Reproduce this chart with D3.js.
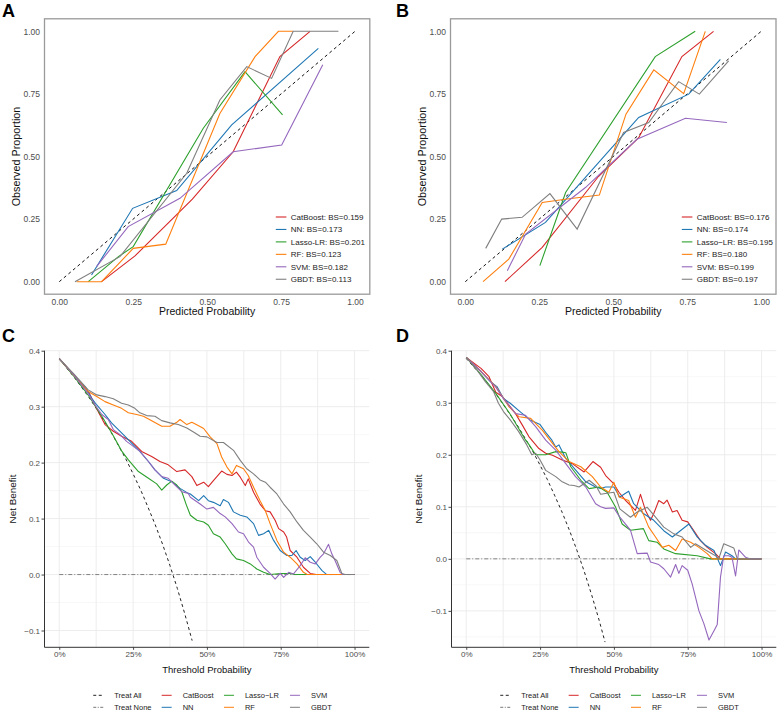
<!DOCTYPE html>
<html>
<head>
<meta charset="utf-8">
<script src="https://cdn.jsdelivr.net/npm/d3@7"></script>
<style>
  body { margin: 0; background: #fff; }
  text { font-family: "Liberation Sans", Arial, sans-serif; }
</style>
</head>
<body>
<svg id="chart" width="778" height="712"></svg>
<script>
// ---- data ----
const models = ["CatBoost", "NN", "Lasso-LR", "RF", "SVM", "GBDT"]
const modelColors = ["#D62728", "#1F77B4", "#2CA02C", "#FF7F0E", "#9467BD", "#7F7F7F"]

const bsA = [0.159, 0.173, 0.201, 0.123, 0.182, 0.113]
const bsB = [0.176, 0.174, 0.195, 0.180, 0.199, 0.197]
const calTicks = [0, 0.25, 0.5, 0.75, 1]

// calibration curves, [predicted, observed], in model order
const calA = [
  [[0.143,0],[0.256,0.103],[0.45,0.33],[0.588,0.519],[0.746,0.899],[0.848,1.0]],
  [[0.109,0.027],[0.248,0.293],[0.397,0.364],[0.583,0.626],[0.876,0.932]],
  [[0.098,0],[0.2,0.1],[0.25,0.14],[0.487,0.613],[0.628,0.839],[0.755,0.666]],
  [[0.059,0],[0.143,0],[0.25,0.133],[0.36,0.15],[0.543,0.672],[0.662,0.899],[0.741,1.0],[0.79,1.0]],
  [[0.126,0.06],[0.233,0.22],[0.408,0.333],[0.588,0.519],[0.752,0.546],[0.891,0.866]],
  [[0.053,0],[0.205,0.1],[0.431,0.433],[0.543,0.726],[0.634,0.859],[0.718,0.812],[0.791,1.0],[0.944,1.0]]
]
const calB = [
  [[0.134,0],[0.26,0.137],[0.45,0.42],[0.586,0.575],[0.732,0.899],[0.839,1.0]],
  [[0.125,0.13],[0.271,0.237],[0.541,0.596],[0.586,0.656],[0.755,0.749],[0.862,0.888]],
  [[0.252,0.064],[0.339,0.356],[0.642,0.899],[0.777,1.0]],
  [[0.06,0],[0.147,0.09],[0.26,0.316],[0.344,0.33],[0.453,0.346],[0.543,0.669],[0.637,0.846],[0.738,0.751],[0.811,1.0]],
  [[0.142,0.044],[0.204,0.19],[0.406,0.376],[0.58,0.569],[0.744,0.653],[0.884,0.636]],
  [[0.069,0.133],[0.123,0.25],[0.192,0.257],[0.286,0.352],[0.378,0.21],[0.535,0.596],[0.62,0.636],[0.721,0.799],[0.791,0.749],[0.89,0.882]]
]

// decision curves, [threshold, net benefit]
const treatAllC = [[0,.385],[.025,.369],[.05,.353],[.075,.335],[.1,.317],[.125,.297],[.15,.276],[.175,.255],[.2,.231],[.225,.207],[.25,.180],[.275,.152],[.3,.121],[.325,.089],[.35,.054],[.375,.016],[.4,-.025],[.425,-.070],[.45,-.118]]
const treatAllD = [[0,.385],[.025,.369],[.05,.353],[.075,.335],[.1,.317],[.125,.297],[.15,.276],[.175,.255],[.2,.231],[.225,.207],[.25,.180],[.275,.152],[.3,.121],[.325,.089],[.35,.054],[.375,.016],[.4,-.025],[.425,-.070],[.45,-.118],[.47,-.160]]
const treatNone = [[0,0],[1,0]]

const dcaC_CatBoost = [[0,.386],[.05,.356],[.1,.326],[.125,.298],[.155,.268],[.183,.256],[.211,.247],[.245,.238],[.279,.220],[.313,.211],[.341,.202],[.369,.196],[.398,.184],[.426,.187],[.449,.175],[.466,.159],[.489,.165],[.505,.157],[.522,.168],[.55,.185],[.568,.179],[.585,.177],[.6,.183],[.613,.174],[.63,.159],[.64,.171],[.658,.147],[.68,.126],[.698,.114],[.714,.112],[.731,.097],[.743,.082],[.76,.076],[.77,.067],[.782,.043],[.805,.031],[.827,.013],[.85,.002],[.87,0],[1,0]]
const dcaC_NN = [[0,.386],[.05,.356],[.087,.336],[.11,.315],[.127,.303],[.155,.286],[.177,.271],[.2,.259],[.223,.247],[.245,.235],[.273,.220],[.302,.202],[.324,.187],[.353,.172],[.381,.166],[.409,.154],[.437,.145],[.444,.144],[.472,.132],[.489,.141],[.505,.132],[.522,.129],[.545,.123],[.556,.134],[.573,.129],[.59,.112],[.613,.106],[.635,.103],[.658,.091],[.675,.070],[.692,.073],[.709,.079],[.726,.061],[.748,.043],[.771,.034],[.788,.034],[.802,.043],[.816,.031],[.833,.025],[.85,.032],[.867,.022],[.89,.007],[.906,0],[1,0]]
const dcaC_Lasso = [[0,.386],[.05,.354],[.1,.319],[.15,.278],[.183,.248],[.211,.221],[.234,.205],[.268,.184],[.302,.172],[.33,.162],[.347,.151],[.364,.160],[.381,.167],[.398,.160],[.415,.148],[.43,.125],[.444,.106],[.466,.097],[.489,.094],[.505,.088],[.522,.073],[.545,.067],[.562,.055],[.585,.037],[.6,.028],[.624,.025],[.647,.019],[.669,.010],[.692,.004],[.714,0],[.75,.002],[.78,.002],[.8,0],[1,0]]
const dcaC_RF = [[0,.386],[.05,.356],[.098,.327],[.127,.318],[.155,.309],[.183,.303],[.211,.297],[.234,.289],[.262,.286],[.285,.283],[.313,.275],[.347,.265],[.375,.265],[.398,.272],[.409,.277],[.432,.268],[.449,.272],[.472,.266],[.489,.261],[.511,.246],[.534,.234],[.55,.210],[.568,.192],[.585,.180],[.6,.195],[.624,.189],[.64,.177],[.658,.156],[.68,.132],[.698,.114],[.714,.091],[.737,.061],[.76,.040],[.782,.031],[.805,.019],[.827,.004],[.84,0],[1,0]]
const dcaC_SVM = [[0,.386],[.05,.356],[.1,.322],[.121,.303],[.144,.286],[.166,.277],[.183,.259],[.206,.250],[.228,.238],[.251,.229],[.273,.220],[.302,.202],[.324,.187],[.347,.175],[.369,.172],[.392,.160],[.415,.148],[.437,.145],[.444,.138],[.477,.126],[.5,.117],[.522,.120],[.545,.109],[.562,.103],[.585,.091],[.607,.076],[.624,.073],[.641,.058],[.658,.049],[.669,.031],[.692,.013],[.714,.002],[.731,-.008],[.748,.002],[.76,-.005],[.777,.004],[.793,.001],[.816,.016],[.833,.030],[.85,.022],[.867,.019],[.884,.031],[.895,.037],[.912,.054],[.923,.037],[.934,.025],[.951,.004],[.96,0],[1,0]]
const dcaC_GBDT = [[0,.386],[.05,.358],[.098,.330],[.127,.321],[.155,.318],[.183,.314],[.211,.306],[.234,.303],[.256,.297],[.273,.289],[.296,.284],[.324,.283],[.347,.275],[.375,.271],[.403,.268],[.432,.262],[.46,.253],[.477,.247],[.5,.246],[.534,.236],[.556,.236],[.59,.222],[.613,.204],[.635,.189],[.658,.180],[.68,.169],[.698,.165],[.714,.156],[.737,.144],[.76,.126],[.782,.112],[.805,.094],[.827,.079],[.85,.067],[.872,.055],[.895,.040],[.918,.034],[.94,.025],[.957,.002],[.968,0],[1,0]]

const dcaD_CatBoost = [[0,.387],[.05,.366],[.077,.350],[.1,.320],[.122,.312],[.167,.279],[.19,.257],[.212,.235],[.246,.212],[.269,.203],[.292,.199],[.325,.190],[.359,.183],[.399,.167],[.429,.187],[.455,.176],[.472,.160],[.5,.144],[.517,.128],[.54,.112],[.556,.103],[.573,.093],[.59,.124],[.607,.093],[.624,.074],[.635,.087],[.652,.112],[.669,.106],[.68,.113],[.698,.090],[.714,.093],[.731,.074],[.75,.071],[.771,.054],[.793,.035],[.816,.022],[.844,.010],[.861,0],[1,0]]
const dcaD_NN = [[0,.387],[.05,.360],[.081,.341],[.104,.331],[.126,.308],[.149,.299],[.182,.283],[.216,.267],[.25,.258],[.273,.240],[.29,.228],[.303,.215],[.314,.219],[.337,.193],[.37,.171],[.405,.148],[.438,.138],[.455,.135],[.472,.138],[.5,.138],[.52,.119],[.55,.130],[.567,.106],[.6,.087],[.635,.074],[.669,.054],[.698,.042],[.725,.054],[.754,.067],[.782,.042],[.81,.026],[.839,.016],[.861,-.013],[.878,.013],[.9,.006],[.912,0],[1,0]]
const dcaD_Lasso = [[0,.387],[.05,.354],[.1,.318],[.15,.277],[.2,.229],[.212,.220],[.235,.200],[.269,.200],[.303,.206],[.325,.205],[.337,.204],[.354,.177],[.388,.151],[.416,.135],[.45,.138],[.477,.128],[.506,.099],[.528,.067],[.556,.055],[.6,.058],[.618,.035],[.646,.032],[.669,.019],[.709,.010],[.782,.006],[.827,0],[1,0]]
const dcaD_RF = [[0,.387],[.05,.360],[.1,.331],[.145,.292],[.179,.273],[.218,.270],[.258,.247],[.292,.222],[.314,.206],[.348,.187],[.388,.177],[.427,.158],[.455,.138],[.483,.128],[.5,.147],[.517,.119],[.55,.112],[.573,.080],[.59,.099],[.618,.061],[.641,.042],[.664,.022],[.686,.026],[.709,.016],[.731,.038],[.76,.032],[.788,.022],[.816,.010],[.833,0],[1,0]]
const dcaD_SVM = [[0,.387],[.05,.360],[.1,.330],[.13,.305],[.167,.279],[.2,.276],[.235,.254],[.269,.228],[.303,.209],[.337,.183],[.37,.158],[.405,.138],[.438,.106],[.455,.100],[.472,.097],[.5,.098],[.52,.080],[.556,.055],[.579,.010],[.613,.011],[.624,-.006],[.652,-.011],[.669,-.019],[.692,-.035],[.709,-.011],[.72,-.028],[.731,-.013],[.75,-.022],[.765,-.048],[.788,-.100],[.805,-.125],[.822,-.156],[.839,-.138],[.85,-.126],[.861,-.035],[.872,.006],[.889,.006],[.9,.003],[.912,-.033],[.923,.017],[.946,.003],[.96,0],[1,0]]
const dcaD_GBDT = [[0,.387],[.036,.363],[.064,.341],[.092,.322],[.109,.299],[.126,.283],[.149,.267],[.177,.245],[.205,.219],[.222,.200],[.235,.203],[.25,.190],[.269,.170],[.303,.158],[.325,.148],[.348,.142],[.365,.141],[.382,.138],[.416,.151],[.44,.140],[.455,.124],[.5,.128],[.52,.096],[.556,.080],[.579,.090],[.613,.099],[.641,.080],[.669,.061],[.703,.048],[.731,.042],[.76,.022],[.776,.029],[.805,.019],[.844,.006],[.855,0],[.872,.029],[.906,.021],[.918,0],[1,0]]

const dcaC = [dcaC_CatBoost, dcaC_NN, dcaC_Lasso, dcaC_RF, dcaC_SVM, dcaC_GBDT]
const dcaD = [dcaD_CatBoost, dcaD_NN, dcaD_Lasso, dcaD_RF, dcaD_SVM, dcaD_GBDT]

const thrMajor = [0, 0.25, 0.5, 0.75, 1]
const thrMinor = [0.125, 0.375, 0.625, 0.875]
const nbMajor = [-0.1, 0, 0.1, 0.2, 0.3, 0.4]
const nbMinorC = [-0.05, 0.05, 0.15, 0.25, 0.35]
const nbMinorD = [-0.15, -0.05, 0.05, 0.15, 0.25, 0.35]

const dcaLegend = ["Treat All", "Treat None", "CatBoost", "NN", "Lasso\u2212LR", "RF", "SVM", "GBDT"]

// ---- drawing ----
const svg = d3.select("#chart")
const FONT = '"Liberation Sans", Arial, sans-serif'

drawCalibration({label: "A", labelX: 2, xRange: [44.5, 369.8], points: calA, bs: bsA, lasso: "Lasso-LR", yTitleX: 20.4})
drawCalibration({label: "B", labelX: 396, xRange: [450.5, 776], points: calB, bs: bsB, lasso: "Lasso\u2212LR", yTitleX: 426})
drawDCA({label: "C", labelX: 2, xRange: [44.5, 369.3], yDomain: [-0.13, 0.4], minor: nbMinorC, curves: dcaC, treatAll: treatAllC, yTitleX: 16})
drawDCA({label: "D", labelX: 396, xRange: [451.5, 776.3], yDomain: [-0.17, 0.4], minor: nbMinorD, curves: dcaD, treatAll: treatAllD, yTitleX: 422.3})

function styleAxis(sel, size){
  sel.attr('font-family', FONT).attr('font-size', size)
  sel.select('.domain').remove()
  sel.selectAll('text').attr('fill', '#4d4d4d')
  sel.selectAll('line').attr('stroke', '#333').attr('stroke-width', 0.9)
}

function panelLabel(text, x, y){
  svg.append('text')
    .attr('x', x).attr('y', y)
    .attr('font-family', '"Liberation Serif", "Times New Roman", serif')
    .attr('font-weight', 'bold')
    .attr('font-size', 18)
    .text(text)
}

function drawCalibration(p){
  const top = 18.8, bottom = 294.2
  const g = svg.append('g')
  const x = d3.scaleLinear().domain([-0.05, 1.05]).range(p.xRange)
  const y = d3.scaleLinear().domain([-0.05, 1.05]).range([bottom, top])

  g.append('rect')
    .attr('x', p.xRange[0]).attr('y', top)
    .attr('width', p.xRange[1] - p.xRange[0]).attr('height', bottom - top)
    .attr('fill', 'none').attr('stroke', '#9a9a9a').attr('stroke-width', 1.3)

  //perfect calibration reference
  g.append('line')
    .attr('x1', x(0)).attr('y1', y(0)).attr('x2', x(1)).attr('y2', y(1))
    .attr('stroke', '#111').attr('stroke-width', 1).attr('stroke-dasharray', '3,3')

  const line = d3.line().x(d => x(d[0])).y(d => y(d[1]))
  p.points.forEach((pts, i) => {
    g.append('path')
      .attr('d', line(pts))
      .attr('fill', 'none')
      .attr('stroke', modelColors[i])
      .attr('stroke-width', 1.1)
  })

  g.append('g')
    .attr('transform', `translate(0,${bottom})`)
    .call(d3.axisBottom(x).tickValues(calTicks).tickFormat(d3.format('.2f')).tickSize(0).tickPadding(4.6))
    .call(styleAxis, 8.5)
  g.append('g')
    .attr('transform', `translate(${p.xRange[0]},0)`)
    .call(d3.axisLeft(y).tickValues(calTicks).tickFormat(d3.format('.2f')).tickSize(0).tickPadding(4.5))
    .call(styleAxis, 8.5)

  g.append('text')
    .attr('x', (p.xRange[0] + p.xRange[1]) / 2).attr('y', 315.3)
    .attr('text-anchor', 'middle').attr('font-size', 10.5).attr('fill', '#111')
    .text('Predicted Probability')
  g.append('text')
    .attr('transform', `translate(${p.yTitleX},${(top + bottom) / 2}) rotate(-90)`)
    .attr('text-anchor', 'middle').attr('font-size', 10.8).attr('fill', '#111')
    .text('Observed Proportion')

  //legend inside the panel
  const names = models.map(m => m === 'Lasso-LR' ? p.lasso : m)
  names.forEach((name, i) => {
    const ly = 217 + i * 12.45
    const lx = x(0) + 216.5
    g.append('line')
      .attr('x1', lx).attr('x2', lx + 10.6).attr('y1', ly).attr('y2', ly)
      .attr('stroke', modelColors[i]).attr('stroke-width', 1.1)
    g.append('text')
      .attr('x', lx + 15).attr('y', ly + 2.9)
      .attr('font-size', 8).attr('fill', '#222')
      .text(`${name}: BS=${p.bs[i].toFixed(3)}`)
  })

  panelLabel(p.label, p.labelX, 16.5)
}

function drawDCA(p){
  const top = 350.7, bottom = 647.3
  const g = svg.append('g')
  const x = d3.scaleLinear().domain([-0.05, 1.05]).range(p.xRange)
  const y = d3.scaleLinear().domain(p.yDomain).range([bottom, top])

  //grid
  g.selectAll('.hminor').data(p.minor).join('line')
    .attr('x1', p.xRange[0]).attr('x2', p.xRange[1])
    .attr('y1', d => y(d)).attr('y2', d => y(d))
    .attr('stroke', '#f3f3f3').attr('stroke-width', 0.7)
  g.selectAll('.hmajor').data(nbMajor).join('line')
    .attr('x1', p.xRange[0]).attr('x2', p.xRange[1])
    .attr('y1', d => y(d)).attr('y2', d => y(d))
    .attr('stroke', '#ebebeb').attr('stroke-width', 0.9)
  g.selectAll('.vgrid').data(thrMajor.concat(thrMinor)).join('line')
    .attr('x1', d => x(d)).attr('x2', d => x(d))
    .attr('y1', top).attr('y2', bottom)
    .attr('stroke', '#ebebeb').attr('stroke-width', 0.9)

  const line = d3.line().x(d => x(d[0])).y(d => y(d[1]))

  g.append('path').attr('d', line(treatNone))
    .attr('fill', 'none').attr('stroke', '#777').attr('stroke-width', 0.9)
    .attr('stroke-dasharray', '4,2,1,2')
  g.append('path').attr('d', line(p.treatAll))
    .attr('fill', 'none').attr('stroke', '#222').attr('stroke-width', 1)
    .attr('stroke-dasharray', '3,3')

  p.curves.forEach((pts, i) => {
    g.append('path')
      .attr('d', line(pts))
      .attr('fill', 'none')
      .attr('stroke', modelColors[i])
      .attr('stroke-width', 1.1)
      .attr('stroke-linejoin', 'round')
  })

  //axes
  g.append('g')
    .attr('transform', `translate(0,${bottom})`)
    .call(d3.axisBottom(x).tickValues(thrMajor).tickFormat(d => Math.round(d * 100) + '%').tickSize(2.5).tickPadding(1.5))
    .call(styleAxis, 8)
  g.append('g')
    .attr('transform', `translate(${p.xRange[0]},0)`)
    .call(d3.axisLeft(y).tickValues(nbMajor).tickFormat(d3.format('.1f')).tickSize(3).tickPadding(1.5))
    .call(styleAxis, 8)
  g.append('line')
    .attr('x1', p.xRange[0]).attr('x2', p.xRange[1]).attr('y1', bottom).attr('y2', bottom)
    .attr('stroke', '#333').attr('stroke-width', 1)
  g.append('line')
    .attr('x1', p.xRange[0]).attr('x2', p.xRange[0]).attr('y1', top).attr('y2', bottom)
    .attr('stroke', '#333').attr('stroke-width', 1)

  g.append('text')
    .attr('x', (p.xRange[0] + p.xRange[1]) / 2).attr('y', 673.4)
    .attr('text-anchor', 'middle').attr('font-size', 9.5).attr('fill', '#111')
    .text('Threshold Probability')
  g.append('text')
    .attr('transform', `translate(${p.yTitleX},${(top + bottom) / 2}) rotate(-90)`)
    .attr('text-anchor', 'middle').attr('font-size', 9.9).attr('fill', '#111')
    .text('Net Benefit')

  //legend below, two rows filled by column
  const colOffsets = [34, 102.4, 164.7, 230.7]
  dcaLegend.forEach((name, i) => {
    const col = Math.floor(i / 2), row = i % 2
    const lx = x(0) + colOffsets[col]
    const ly = row === 0 ? 695.3 : 707.3
    const key = g.append('line')
      .attr('x1', lx).attr('x2', lx + 10).attr('y1', ly).attr('y2', ly)
      .attr('stroke-width', 1)
    if (i === 0) key.attr('stroke', '#222').attr('stroke-dasharray', '3,2.5')
    else if (i === 1) key.attr('stroke', '#777').attr('stroke-dasharray', '3,1.5,1,1.5')
    else key.attr('stroke', modelColors[i - 2])
    g.append('text')
      .attr('x', lx + 21).attr('y', ly + 2.7)
      .attr('font-size', 7.5).attr('fill', '#222')
      .text(name)
  })

  panelLabel(p.label, p.labelX, 342)
}
</script>
</body>
</html>
